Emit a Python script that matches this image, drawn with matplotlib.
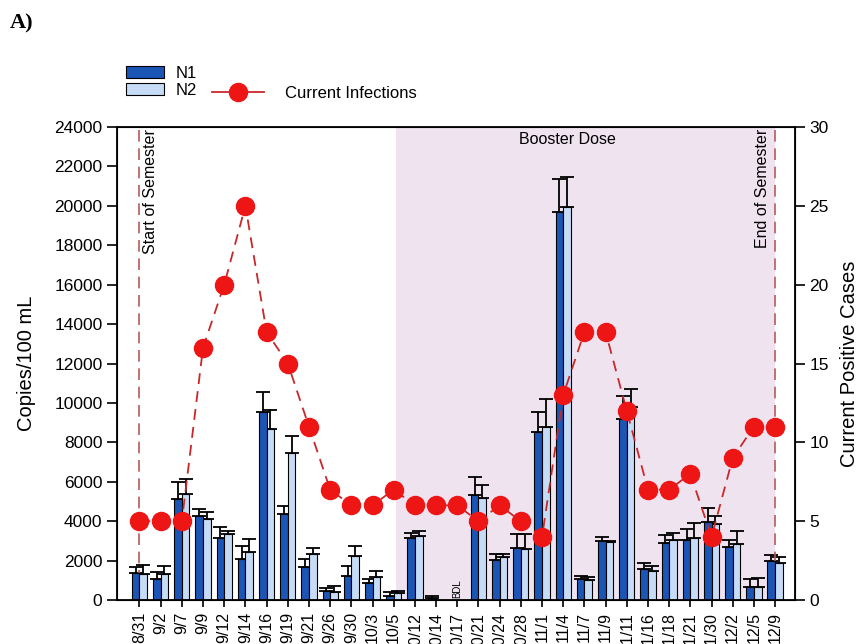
import numpy as np
import matplotlib
matplotlib.use("Agg")
import matplotlib.pyplot as plt
from matplotlib.patches import Patch
from matplotlib.lines import Line2D

plt.rcParams['font.family'] = ['Liberation Sans', 'DejaVu Sans']

# sampling dates
dates = ['8/31', '9/2', '9/7', '9/9', '9/12', '9/14', '9/16', '9/19', '9/21', '9/26',
         '9/30', '10/3', '10/5', '10/12', '10/14', '10/17', '10/21', '10/24', '10/28',
         '11/1', '11/4', '11/7', '11/9', '11/11', '11/16', '11/18', '11/21', '11/30',
         '12/2', '12/5', '12/9']

# copies/100 mL and upper error
n1 = [1360, 1070, 5100, 4270, 3140, 2080, 9530, 4360, 1680, 460, 1240, 880, 200, 3170,
      85, 0, 5340, 2030, 2660, 8510, 19700, 1070, 3000, 9200, 1560, 2880, 3020, 3970,
      2690, 640, 1980]
n1_err = [300, 370, 900, 360, 560, 650, 1010, 400, 390, 130, 460, 170, 190, 220,
          115, 0, 880, 290, 700, 1020, 1660, 150, 190, 1140, 300, 410, 570, 690,
          360, 430, 290]
n2 = [1300, 1320, 5400, 4100, 3340, 2420, 8680, 7460, 2340, 410, 2250, 1170, 340, 3250,
      0, 0, 5200, 2170, 2590, 8760, 19950, 1020, 2930, 9800, 1460, 3020, 3170, 3850,
      2850, 640, 1860]
n2_err = [480, 430, 750, 360, 180, 680, 950, 840, 300, 300, 510, 290, 130, 270,
          0, 0, 630, 150, 770, 1440, 1500, 150, 40, 900, 240, 370, 760, 420,
          670, 500, 340]

# current positive cases
cases = [5, 5, 5, 16, 20, 25, 17, 15, 11, 7, 6, 6, 7, 6, 6, 6, 5, 6, 5, 4, 13, 17, 17,
         12, 7, 7, 8, 4, 9, 11, 11]

booster_start = 12.1
semester_start = 0
semester_end = 30
bdl_index = 15

x = np.arange(len(dates))
n1 = np.array(n1)
n2 = np.array(n2)
n1_err = np.array(n1_err)
n2_err = np.array(n2_err)

fig = plt.figure(figsize=(8.61, 6.44), dpi=100)
ax = fig.add_axes([117/861, 44/644, 678/861, 473/644])

c_n1 = '#1b55b5'
c_n2 = '#c6dbf5'
w = 0.36

# booster period shading
ax.axvspan(booster_start, semester_end, color='#f0e3f0', zorder=0, lw=0)

ax.bar(x - w/2, n1, width=w, color=c_n1, edgecolor='black', linewidth=0.8, zorder=2)
ax.bar(x + w/2, n2, width=w, color=c_n2, edgecolor='black', linewidth=0.8, zorder=2)

m1 = n1 > 0
m2 = n2 > 0
ax.errorbar(x[m1] - w/2, n1[m1], yerr=[np.zeros(m1.sum()), n1_err[m1]], fmt='none',
            ecolor='black', elinewidth=1.3, capsize=5, capthick=1.3, zorder=1)
ax.errorbar(x[m2] + w/2, n2[m2], yerr=[np.zeros(m2.sum()), n2_err[m2]], fmt='none',
            ecolor='black', elinewidth=1.3, capsize=5, capthick=1.3, zorder=1)

# semester markers
for xv in (semester_start, semester_end):
    ax.axvline(xv, color='#b85a5a', lw=1.2, ls=(0, (7, 4)), zorder=1)
ax.text(semester_start + 0.5, 23900, 'Start of Semester', rotation=90, ha='center',
        va='top', fontsize=11.5)
ax.text(semester_end - 0.6, 23900, 'End of Semester', rotation=90, ha='center',
        va='top', fontsize=11.5)
ax.text(20.2, 23350, 'Booster Dose', ha='center', va='center', fontsize=11.5)
ax.text(bdl_index, 120, 'BDL', rotation=90, ha='center', va='bottom', fontsize=7)

ax.set_xlim(-1.06, 30.94)
ax.set_ylim(0, 24000)
ax.set_yticks(np.arange(0, 24001, 2000))
ax.set_xticks(x)
ax.set_xticklabels(dates, rotation=90, fontsize=11.5)
ax.tick_params(axis='y', labelsize=12.5, length=7, width=1.2, direction='out')
ax.tick_params(axis='x', length=5, width=1.2, direction='out')
ax.set_ylabel('Copies/100 mL', fontsize=14.5, labelpad=13)
for s in ax.spines.values():
    s.set_linewidth(1.3)

ax2 = ax.twinx()
ax2.plot(x, cases, color='#c8282a', lw=1.3, ls=(0, (6, 4)), marker='o', markersize=13,
         markerfacecolor='#ee1515', markeredgecolor='#ee1515', zorder=3)
ax2.set_ylim(0, 30)
ax2.set_yticks(np.arange(0, 31, 5))
ax2.tick_params(axis='y', labelsize=12.5, length=7, width=1.2, direction='out')
ax2.set_ylabel('Current Positive Cases', fontsize=14.5, labelpad=8)

# legends above the axes
h_bars = [Patch(facecolor=c_n1, edgecolor='black', lw=0.8),
          Patch(facecolor=c_n2, edgecolor='black', lw=0.8)]
fig.legend(h_bars, ['N1', 'N2'], loc='upper left', bbox_to_anchor=(126/861, 1 - 66/644),
           frameon=False, fontsize=12, handlelength=2.3, handleheight=0.75,
           labelspacing=0.1, borderpad=0, borderaxespad=0, handletextpad=0.7)
h_line = [Line2D([0], [0], color='#c8282a', lw=1.3, marker='o', markersize=13,
                 markerfacecolor='#ee1515', markeredgecolor='#ee1515')]
fig.legend(h_line, ['Current Infections'], loc='center left',
           bbox_to_anchor=(212/861, 1 - 93/644), frameon=False, fontsize=12,
           handlelength=3.1, borderpad=0, borderaxespad=0, handletextpad=1.3)

fig.text(10/861, 1 - 23/644, 'A)', fontsize=16, fontweight='bold',
         family='Liberation Serif', va='center', ha='left')

fig.savefig('out.png', dpi=100)
